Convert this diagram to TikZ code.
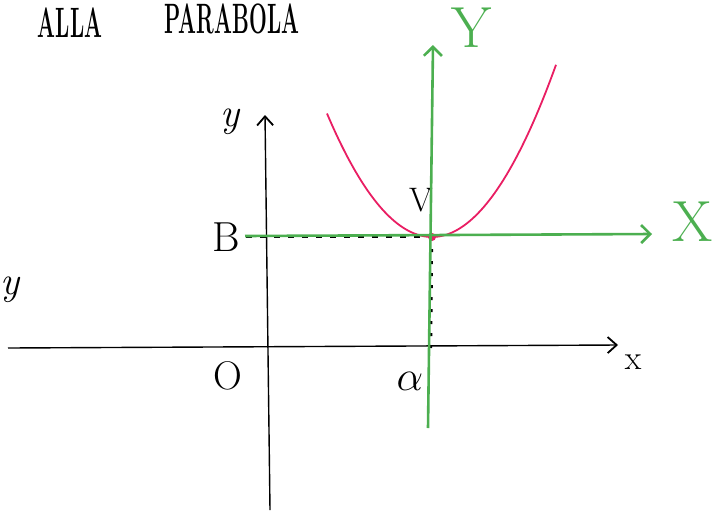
\documentclass[tikz,border=0pt]{standalone}
\usetikzlibrary{arrows.meta}
\definecolor{axgreen}{RGB}{76,175,80}
\definecolor{parred}{RGB}{233,30,99}
\begin{document}
\begin{tikzpicture}[x=1pt,y=-1pt,
  blackax/.style={line width=1.4pt,black,-{Straight Barb[length=9pt,width=16pt,line width=1.8pt]}},
  greenax/.style={line width=2.6pt,axgreen,-{Straight Barb[length=9pt,width=18pt,line width=2.6pt]}},
  lab/.style={inner sep=0pt,font=\fontsize{40}{44}\selectfont\itshape},
  glab/.style={inner sep=0pt,text=axgreen,font=\fontsize{58}{60}\selectfont},
  ttl/.style={inner sep=0pt,font=\fontsize{34}{36}\selectfont\bfseries}]
\useasboundingbox (0,0) rectangle (719,517);
% title
\node[ttl] (t1) at (70,23) {\scalebox{0.62}[1.25]{ALLA}};
\node[ttl] (t2) at (232,19) {\scalebox{0.62}[1.25]{PARABOLA}};
% partial y on left edge
\node[lab,anchor=west] (yl) at (0,290) {y};
% black axes
\coordinate (xs) at (8,348);
\coordinate (xe) at (618,345);
\coordinate (ys) at (270,510);
\coordinate (ye) at (265,115);
\draw[blackax] (xs) -- (xe);
\draw[blackax] (ys) -- (ye);
\node[lab,font=\fontsize{34}{36}\selectfont\upshape] (xl) at (633,362) {x};
\node[lab] (yy) at (230,122) {y};
\node[lab,font=\fontsize{40}{42}\selectfont\upshape] (o) at (228,376) {O};
\node[lab,font=\fontsize{42}{44}\selectfont\upshape] (b) at (226,237) {B};
\node[lab] (al) at (410,381) {\scalebox{1.7}{$\alpha$}};
\node[lab,font=\fontsize{34}{36}\selectfont\upshape] (v) at (421,200) {V};
% vertex and guide lines
\coordinate (vx) at (432,237);
\coordinate (bx) at (246,237);
\coordinate (ax) at (431,350);
\draw[line width=2pt,dash pattern=on 6pt off 8pt] (bx) -- (vx);
\draw[line width=2.4pt,dash pattern=on 3pt off 9pt] (vx) -- (ax);
% parabola
\draw[parred,line width=1.8pt,domain=327:556,samples=80]
  plot (\x,{237-0.0112*(\x-432)*(\x-432)});
\fill[parred] (vx) circle (4pt);
% green axes
\coordinate (gxs) at (245,236);
\coordinate (gxe) at (652,234);
\coordinate (gys) at (428,428);
\coordinate (gye) at (433,45);
\draw[greenax] (gxs) -- (gxe);
\draw[greenax] (gys) -- (gye);
\node[glab] (gX) at (693,222) {X};
\node[glab] (gY) at (472,28) {Y};
\end{tikzpicture}
\end{document}
